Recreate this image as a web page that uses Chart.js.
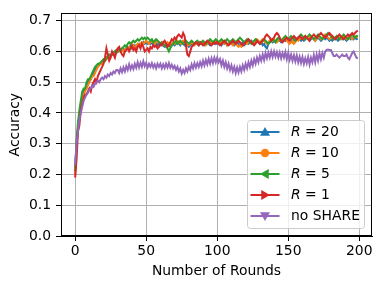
<!DOCTYPE html>
<html><head><meta charset="utf-8">
<script src="https://cdn.jsdelivr.net/npm/chart.js@4.4.1/dist/chart.umd.min.js"></script>
<style>html,body{margin:0;padding:0;background:#fff}#wrap{width:381px;height:289px;position:relative}</style>
</head><body><div id="wrap"><canvas id="c" width="381" height="289"></canvas></div>
<script>
const rounds = Array.from({length: 200}, (_, i) => i);
const seriesNames = ["R = 20", "R = 10", "R = 5", "R = 1", "no SHARE"];
const xTicks = [0, 50, 100, 150, 200];
const yTicks = [0, 0.1, 0.2, 0.3, 0.4, 0.5, 0.6, 0.7];

const r20 = [
.22,.30,.35,.39,.42,.45,.47,.48,.48,.50,
.51,.51,.52,.53,.54,.55,.55,.56,.56,.565,
.57,.57,.575,.58,.585,.59,.59,.595,.60,.595,
.60,.605,.60,.605,.61,.60,.61,.615,.61,.62,
.61,.615,.62,.615,.62,.625,.62,.625,.63,.625,
.63,.625,.63,.625,.63,.62,.625,.63,.62,.625,
.62,.625,.62,.615,.62,.625,.62,.615,.62,.625,
.62,.625,.63,.625,.62,.63,.625,.62,.625,.62,
.615,.62,.625,.62,.625,.63,.625,.62,.625,.63,
.625,.62,.625,.63,.625,.62,.625,.63,.625,.63,
.625,.63,.625,.62,.63,.625,.63,.62,.625,.63,
.625,.63,.62,.625,.63,.625,.62,.625,.63,.62,
.625,.63,.625,.63,.635,.63,.625,.63,.635,.63,
.625,.63,.62,.625,.615,.61,.625,.63,.635,.63,
.635,.63,.635,.64,.635,.63,.635,.64,.635,.64,
.635,.64,.635,.63,.64,.635,.64,.645,.64,.635,
.64,.635,.64,.645,.64,.635,.64,.645,.64,.635,
.64,.645,.64,.635,.64,.645,.64,.645,.64,.635,
.64,.635,.64,.645,.64,.635,.64,.645,.64,.645,
.64,.635,.64,.645,.64,.645,.64,.645,.64,.642];

const r10 = [
.20,.29,.35,.39,.42,.44,.46,.47,.48,.49,
.50,.51,.52,.52,.53,.54,.55,.555,.56,.56,
.565,.57,.575,.58,.58,.585,.59,.59,.595,.60,
.60,.60,.605,.61,.60,.605,.61,.61,.615,.61,
.615,.62,.61,.62,.625,.62,.625,.63,.625,.63,
.635,.63,.625,.63,.635,.63,.625,.63,.635,.63,
.625,.63,.625,.62,.625,.63,.625,.62,.625,.63,
.625,.63,.635,.63,.625,.63,.635,.63,.625,.62,
.62,.625,.63,.625,.62,.625,.63,.625,.63,.625,
.63,.625,.62,.625,.63,.635,.63,.625,.63,.635,
.63,.625,.63,.635,.63,.625,.63,.62,.625,.63,
.625,.62,.625,.63,.62,.615,.62,.615,.62,.625,
.63,.625,.63,.635,.63,.625,.63,.635,.64,.635,
.63,.635,.64,.635,.63,.625,.63,.635,.64,.635,
.64,.635,.63,.635,.64,.635,.64,.645,.64,.635,
.63,.625,.63,.635,.625,.63,.64,.635,.64,.645,
.64,.645,.65,.645,.64,.645,.65,.645,.64,.635,
.645,.65,.645,.64,.645,.65,.655,.65,.645,.64,
.645,.65,.645,.64,.645,.65,.645,.64,.645,.65,
.645,.64,.645,.65,.645,.64,.645,.65,.648,.646];

const r5 = [
.21,.31,.37,.41,.44,.47,.48,.48,.50,.51,
.51,.52,.53,.54,.55,.555,.56,.56,.565,.57,
.575,.57,.58,.585,.59,.585,.59,.595,.60,.605,
.60,.61,.605,.61,.615,.62,.615,.625,.63,.625,
.63,.635,.63,.635,.64,.635,.64,.645,.64,.645,
.64,.645,.64,.635,.64,.63,.635,.64,.635,.63,
.625,.63,.625,.62,.615,.61,.60,.61,.62,.625,
.63,.635,.625,.63,.635,.63,.625,.63,.635,.63,
.625,.63,.635,.63,.625,.63,.635,.63,.625,.63,
.635,.63,.625,.63,.635,.64,.635,.63,.635,.64,
.635,.63,.635,.64,.635,.63,.635,.64,.635,.63,
.635,.64,.635,.63,.635,.64,.645,.64,.635,.63,
.635,.64,.635,.63,.625,.63,.635,.64,.635,.63,
.625,.63,.635,.64,.635,.63,.625,.63,.635,.64,
.635,.63,.64,.645,.64,.635,.64,.645,.65,.645,
.64,.645,.65,.645,.64,.635,.64,.645,.65,.655,
.65,.645,.64,.645,.65,.655,.65,.645,.64,.645,
.65,.655,.65,.645,.64,.645,.65,.655,.66,.655,
.65,.645,.64,.645,.65,.645,.64,.645,.65,.655,
.65,.645,.64,.645,.65,.655,.65,.645,.65,.652];

const r1 = [
.19,.25,.34,.36,.41,.43,.45,.46,.46,.47,
.48,.47,.49,.50,.51,.50,.52,.53,.54,.55,
.56,.58,.61,.59,.57,.58,.60,.59,.58,.60,
.61,.615,.60,.59,.585,.60,.605,.61,.60,.61,
.62,.605,.61,.60,.615,.62,.61,.625,.615,.60,
.605,.61,.60,.615,.61,.62,.615,.62,.61,.615,
.625,.62,.63,.635,.625,.615,.62,.63,.64,.635,
.645,.64,.65,.655,.65,.645,.66,.65,.62,.59,
.585,.60,.615,.62,.625,.63,.625,.62,.63,.625,
.62,.625,.63,.635,.63,.625,.62,.625,.63,.625,
.63,.625,.62,.625,.63,.635,.63,.625,.62,.625,
.63,.635,.63,.625,.63,.635,.63,.625,.62,.625,
.63,.635,.64,.635,.63,.625,.62,.625,.635,.63,
.625,.63,.635,.64,.65,.655,.65,.645,.635,.64,
.645,.655,.66,.655,.645,.635,.63,.635,.64,.645,
.64,.635,.64,.645,.65,.645,.64,.645,.65,.645,
.64,.645,.65,.645,.64,.635,.645,.65,.655,.65,
.645,.65,.655,.66,.655,.65,.645,.65,.655,.66,
.655,.65,.645,.64,.645,.65,.655,.65,.645,.64,
.645,.65,.655,.65,.655,.66,.655,.66,.665,.668];

const noShare = [
.23,.30,.34,.38,.40,.42,.44,.45,.46,.465,
.475,.48,.49,.485,.495,.50,.505,.50,.51,.515,
.51,.52,.515,.525,.52,.53,.525,.535,.53,.54,
.54,.53,.545,.533,.548,.535,.552,.54,.558,.542,
.555,.543,.56,.547,.565,.548,.563,.55,.568,.552,
.563,.548,.56,.55,.562,.548,.558,.545,.56,.55,
.56,.545,.558,.546,.56,.548,.562,.547,.557,.545,
.553,.54,.55,.535,.545,.528,.54,.53,.545,.535,
.55,.54,.558,.545,.562,.548,.562,.55,.565,.552,
.57,.555,.572,.558,.576,.56,.578,.562,.58,.565,
.58,.565,.575,.555,.57,.55,.565,.545,.56,.54,
.555,.535,.55,.53,.548,.532,.55,.535,.555,.54,
.56,.545,.565,.55,.57,.555,.575,.56,.58,.565,
.585,.57,.59,.572,.595,.578,.596,.58,.60,.582,
.60,.583,.598,.58,.597,.578,.595,.58,.598,.575,
.595,.573,.59,.57,.588,.568,.587,.565,.583,.563,
.582,.56,.578,.562,.582,.558,.58,.565,.588,.565,
.59,.57,.594,.575,.595,.58,.60,.605,.606,.605,
.605,.595,.585,.585,.59,.585,.58,.585,.59,.585,
.585,.59,.58,.575,.585,.595,.60,.59,.58,.578];

const allSeries = [r20, r10, r5, r1, noShare];
const colors = ["#1f77b4", "#ff7f0e", "#2ca02c", "#d62728", "#9467bd"];
const markers = ["up", "circle", "left", "right", "down"];

const FONT = "DejaVu Sans";
const FS = 13.9;

function drawMarker(ctx, type, x, y, r, color) {
  ctx.save();
  ctx.fillStyle = color;
  ctx.beginPath();
  if (type === "circle") {
    ctx.arc(x, y, r * 0.85, 0, Math.PI * 2);
  } else {
    let pts;
    if (type === "up") pts = [[0,-r],[r,r*0.75],[-r,r*0.75]];
    if (type === "down") pts = [[0,r],[r,-r*0.75],[-r,-r*0.75]];
    if (type === "left") pts = [[-r,0],[r*0.75,-r],[r*0.75,r]];
    if (type === "right") pts = [[r,0],[-r*0.75,-r],[-r*0.75,r]];
    ctx.moveTo(x + pts[0][0], y + pts[0][1]);
    ctx.lineTo(x + pts[1][0], y + pts[1][1]);
    ctx.lineTo(x + pts[2][0], y + pts[2][1]);
    ctx.closePath();
  }
  ctx.fill();
  ctx.restore();
}

const framePlugin = {
  id: "frame",
  afterDatasetsDraw(chart) {
    const ctx = chart.ctx, a = chart.chartArea;
    ctx.save();
    ctx.strokeStyle = "#000";
    ctx.lineWidth = 1;
    ctx.strokeRect(Math.round(a.left) + 0.5, Math.round(a.top) + 0.5, Math.round(a.right - a.left) - 1, Math.round(a.bottom - a.top) - 1);
    ctx.restore();
  },
  afterDraw(chart) {
    const ctx = chart.ctx, a = chart.chartArea;
    const w = 117, h = 108;
    const x0 = a.right - 8 - w, y0 = a.bottom - 8 - h;
    ctx.save();
    ctx.fillStyle = "rgba(255,255,255,0.8)";
    ctx.strokeStyle = "#cccccc";
    ctx.lineWidth = 1;
    ctx.beginPath();
    ctx.roundRect(x0 + 0.5, y0 + 0.5, w, h, 3);
    ctx.fill();
    ctx.stroke();
    const rowH = 21;
    for (let i = 0; i < seriesNames.length; i++) {
      const cy = y0 + 12 + i * rowH;
      ctx.strokeStyle = colors[i];
      ctx.lineWidth = 2;
      ctx.beginPath();
      ctx.moveTo(x0 + 3.5, cy);
      ctx.lineTo(x0 + 32.5, cy);
      ctx.stroke();
      drawMarker(ctx, markers[i], x0 + 18, cy, 5, colors[i]);
      ctx.fillStyle = "#000";
      ctx.textBaseline = "middle";
      ctx.textAlign = "left";
      const tx = x0 + 44;
      const name = seriesNames[i];
      if (name.startsWith("R")) {
        ctx.font = "italic " + FS + "px '" + FONT + "'";
        ctx.fillText("R", tx, cy);
        const wR = ctx.measureText("R").width;
        ctx.font = FS + "px '" + FONT + "'";
        ctx.fillText(name.slice(1), tx + wR, cy);
      } else {
        ctx.font = FS + "px '" + FONT + "'";
        ctx.fillText(name, tx, cy);
      }
    }
    ctx.restore();
  }
};

const datasets = allSeries.map((s, i) => ({
  label: seriesNames[i],
  data: s.map((v, j) => ({x: rounds[j], y: v})),
  borderColor: colors[i],
  backgroundColor: colors[i],
  borderWidth: 2,
  pointRadius: 0,
  tension: 0,
  fill: false,
  order: 4 - i
}));

new Chart(document.getElementById("c"), {
  type: "line",
  data: {datasets},
  options: {
    responsive: false,
    animation: false,
    devicePixelRatio: 1,
    layout: {padding: {top: 9, right: 9, left: 0, bottom: 0}},
    plugins: {legend: {display: false}, tooltip: {enabled: false}},
    scales: {
      x: {
        type: "linear",
        min: -9.95, max: 208.95,
        afterBuildTicks: (sc) => { sc.ticks = xTicks.map(v => ({value: v})); },
        afterFit: (sc) => { sc.height = 53; },
        ticks: {color: "#000", font: {family: FONT, size: FS}, padding: 2, maxRotation: 0,
          callback: (v) => String(v)},
        grid: {color: "#b0b0b0", lineWidth: 1, tickColor: "#000", tickLength: 5, drawOnChartArea: true},
        border: {display: true, color: "#000", width: 1},
        title: {display: true, text: "Number of Rounds", color: "#000", font: {family: FONT, size: FS}, padding: {top: 0, bottom: 9}}
      },
      y: {
        type: "linear",
        min: 0, max: 0.724,
        afterBuildTicks: (sc) => { sc.ticks = yTicks.map(v => ({value: v})); },
        afterFit: (sc) => { sc.width = 61; },
        ticks: {color: "#000", font: {family: FONT, size: FS}, padding: 5,
          callback: (v) => Number(v).toFixed(1)},
        grid: {color: "#b0b0b0", lineWidth: 1, tickColor: "#000", tickLength: 5, drawOnChartArea: true},
        border: {display: true, color: "#000", width: 1},
        title: {display: true, text: "Accuracy", color: "#000", font: {family: FONT, size: FS}, padding: {top: 7, bottom: 0}}
      }
    }
  },
  plugins: [framePlugin]
});
</script></body></html>
